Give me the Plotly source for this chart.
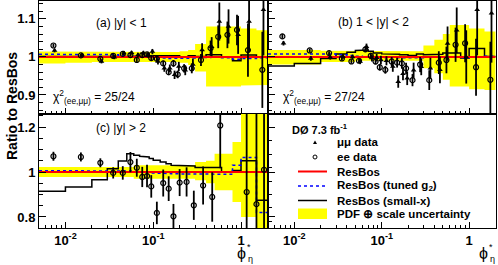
import math
import plotly.graph_objects as go

# ---------------- data ----------------
bin_edges = [0.0, 0.01, 0.02, 0.03, 0.04, 0.05, 0.06, 0.07, 0.08, 0.09, 0.10, 0.12, 0.14,
             0.16, 0.18, 0.20, 0.25, 0.30, 0.40, 0.50, 0.60, 0.80, 1.00, 1.50, 2.00]
phi_centers = [0.0073, 0.015, 0.025, 0.035, 0.045, 0.055, 0.065, 0.075, 0.085, 0.095, 0.11, 0.13,
               0.15, 0.17, 0.19, 0.225, 0.275, 0.35, 0.45, 0.55, 0.7, 0.9, 1.2, 1.75]
resbos_ratio = [1.0, 1.0, 1.0, 1.0, 1.0, 1.0, 1.0, 1.0, 1.0, 1.0, 1.0, 1.0,
                1.0, 1.0, 1.0, 1.0, 1.0, 1.0, 1.0, 1.0, 1.0, 1.0, 1.0, 1.0]

# (a) |y| < 1
ee_a = [1.030, 1.004, 0.995, 1.003, 1.008, 1.005, 0.992, 1.005, 1.007, 0.997, 0.995, 0.983,
        0.960, 0.983, 0.954, 0.970, 0.970, 0.992, 1.023, 1.053, 1.058, 1.071, 1.018, 0.966]
ee_a_err = [0.005, 0.004, 0.004, 0.004, 0.004, 0.004, 0.005, 0.005, 0.005, 0.006, 0.006, 0.007,
            0.008, 0.009, 0.010, 0.011, 0.013, 0.016, 0.020, 0.030, 0.035, 0.040, 0.070, 0.100]
mm_a = [1.017, 1.005, 0.988, 0.999, 1.010, 1.011, 1.005, 1.010, 1.005, 1.014, 0.988, 0.970,
        0.970, 0.953, 0.975, 0.965, 0.980, 1.018, 1.027, 1.093, 1.080, 1.058, 1.093, 1.124]
mm_a_err = [0.005, 0.005, 0.005, 0.005, 0.005, 0.005, 0.006, 0.006, 0.007, 0.007, 0.008, 0.009,
            0.010, 0.011, 0.012, 0.013, 0.015, 0.018, 0.025, 0.050, 0.045, 0.050, 0.080, 0.120]
tuned_a = [1.007, 1.007, 1.007, 1.006, 1.004, 1.002, 1.001, 1.000, 1.000, 0.999, 0.998, 0.997,
           0.996, 0.996, 0.996, 0.996, 0.997, 0.998, 0.999, 1.000, 0.998, 0.994, 0.996, 0.998]
smallx_a = [1.001, 1.001, 1.001, 1.001, 1.001, 1.001, 1.001, 1.001, 1.001, 1.001, 1.003, 1.003,
            1.003, 1.003, 1.003, 1.000, 1.003, 1.001, 1.006, 1.006, 1.000, 0.990, 1.005, 1.000]
band_up_a = [1.014, 1.014, 1.013, 1.013, 1.013, 1.013, 1.013, 1.013, 1.013, 1.013, 1.013, 1.013,
             1.013, 1.013, 1.013, 1.015, 1.018, 1.034, 1.080, 1.080, 1.080, 1.080, 1.075, 1.070]
band_lo_a = [0.983, 0.985, 0.987, 0.987, 0.987, 0.987, 0.987, 0.987, 0.987, 0.987, 0.987, 0.987,
             0.987, 0.987, 0.987, 0.985, 0.979, 0.962, 0.922, 0.922, 0.922, 0.922, 0.925, 0.926]

# (b) 1 < |y| < 2
ee_b = [1.054, 1.017, 1.010, 0.996, 0.988, 0.990, 1.020, 1.003, 0.988, 0.973, 0.966, 0.988,
        0.985, 0.983, 0.970, 0.939, 0.980, 0.939, 0.985, 0.992, 1.032, 1.036, 0.973, 0.940]
ee_b_err = [0.006, 0.005, 0.005, 0.005, 0.006, 0.006, 0.007, 0.008, 0.008, 0.009, 0.010, 0.012,
            0.013, 0.014, 0.015, 0.016, 0.020, 0.026, 0.030, 0.035, 0.045, 0.050, 0.075, 0.100]
mm_b = [1.036, 0.996, 0.999, 1.001, 1.000, 0.988, 1.027, 0.997, 0.998, 0.992, 0.990, 0.975,
        0.935, 0.956, 0.944, 0.965, 0.974, 0.970, 0.966, 1.035, 1.070, 1.000, 1.124, 1.115]
mm_b_err = [0.006, 0.006, 0.006, 0.006, 0.006, 0.007, 0.008, 0.009, 0.010, 0.011, 0.012, 0.014,
            0.016, 0.017, 0.018, 0.020, 0.022, 0.028, 0.035, 0.045, 0.060, 0.070, 0.120, 0.130]
tuned_b = [1.008, 1.008, 1.008, 1.006, 1.004, 1.002, 1.000, 0.999, 0.998, 0.998, 0.997, 0.997,
           0.997, 0.997, 0.997, 0.997, 0.998, 0.999, 1.000, 1.000, 0.999, 0.998, 1.000, 1.002]
smallx_b = [0.976, 0.983, 0.996, 1.008, 1.012, 1.017, 1.018, 1.015, 1.010, 1.010, 1.008, 1.008,
            1.007, 1.006, 1.006, 1.004, 1.008, 1.006, 1.007, 1.010, 1.010, 0.997, 1.022, 1.001]
band_up_b = [1.018, 1.018, 1.016, 1.016, 1.016, 1.015, 1.015, 1.015, 1.015, 1.015, 1.015, 1.015,
             1.015, 1.015, 1.015, 1.015, 1.015, 1.030, 1.045, 1.060, 1.084, 1.084, 1.075, 1.067]
band_lo_b = [0.980, 0.980, 0.987, 0.987, 0.987, 0.990, 0.990, 0.990, 0.990, 0.990, 0.990, 0.990,
             0.990, 0.990, 0.990, 0.990, 0.990, 0.970, 0.957, 0.940, 0.922, 0.922, 0.915, 0.913]

# (c) |y| > 2  (electrons only)
phi_c = [0.0073, 0.015, 0.025, 0.035, 0.045, 0.055, 0.065, 0.075, 0.085, 0.095, 0.11, 0.13,
         0.15, 0.17, 0.20, 0.24, 0.29, 0.37, 0.47, 0.58, 1.16, 1.5, 1.83]
ee_c = [1.070, 1.067, 1.041, 0.996, 0.996, 1.044, 1.019, 0.978, 0.982, 0.936, 0.818, 0.951,
        0.926, 0.803, 0.953, 0.956, 0.852, 0.940, 0.889, 1.207, 0.911, 0.857, 1.010]
ee_c_err = [0.020, 0.020, 0.020, 0.025, 0.030, 0.045, 0.040, 0.045, 0.050, 0.050, 0.050, 0.060,
            0.055, 0.055, 0.060, 0.065, 0.065, 0.085, 0.110, 0.190, 0.450, 0.450, 0.400]
tuned_c = [1.006, 1.006, 1.006, 1.005, 1.005, 1.004, 1.000, 1.000, 0.998, 0.996, 0.994, 0.993,
           0.993, 0.992, 0.992, 0.992, 0.992, 0.993, 0.992, 0.990, 0.990, 1.030, 1.065, 0.820]
smallx_c = [0.914, 0.933, 0.966, 1.015, 1.049, 1.081, 1.074, 1.070, 1.067, 1.060, 1.052, 1.044,
            1.037, 1.030, 1.030, 1.030, 1.027, 1.020, 1.020, 1.020, 1.000, 1.007, 1.050, 0.874]
band_up_c = [1.022, 1.022, 1.022, 1.022, 1.022, 1.022, 1.030, 1.030, 1.030, 1.030, 1.030, 1.030,
             1.030, 1.030, 1.030, 1.030, 1.030, 1.044, 1.050, 1.081, 1.081, 1.133, 1.300, 1.300]
band_lo_c = [0.978, 0.978, 0.978, 0.978, 0.978, 0.978, 0.970, 0.970, 0.970, 0.970, 0.970, 0.970,
             0.970, 0.970, 0.970, 0.970, 0.970, 0.963, 0.950, 0.919, 0.919, 0.867, 0.800, 0.700]

chi2_a = "25/24"
chi2_b = "27/24"

# ---------------- layout constants ----------------
W, H = 498, 265
ML, MR, MT, MB = 39, 2, 1, 37
PW = W - ML - MR
PH = H - MT - MB
XMIN, XMAX = 0.005, 2.03
XSPLIT = 229 / PW
YSPLIT = 114 / PH
FONT = "Liberation Sans, Arial, Helvetica, sans-serif"


def px(xpix):
    return (xpix - ML) / PW


def py(ypix):
    return (H - MB - ypix) / PH


def step_xy(vals):
    xs, ys = [], []
    for i, v in enumerate(vals):
        xs += [max(bin_edges[i], XMIN), bin_edges[i + 1]]
        ys += [v, v]
    return xs, ys


fig = go.Figure()


def add_theory(xa, ya, up, lo, tuned, smallx):
    xu, yu = step_xy(up)
    xl, yl = step_xy(lo)
    fig.add_trace(go.Scatter(x=xu + xl[::-1], y=yu + yl[::-1], fill="toself",
                             fillcolor="#ffff00", line=dict(width=0), mode="lines",
                             hoverinfo="skip", showlegend=False, xaxis=xa, yaxis=ya))
    xs, ys = step_xy(smallx)
    fig.add_trace(go.Scatter(x=xs, y=ys, mode="lines", line=dict(color="black", width=1.5),
                             showlegend=False, xaxis=xa, yaxis=ya))
    xs, ys = step_xy(tuned)
    fig.add_trace(go.Scatter(x=xs, y=ys, mode="lines",
                             line=dict(color="#0000ff", width=1.5, dash="dot"),
                             showlegend=False, xaxis=xa, yaxis=ya))
    xs, ys = step_xy(resbos_ratio)
    fig.add_trace(go.Scatter(x=xs, y=ys, mode="lines", line=dict(color="#ff0000", width=2),
                             showlegend=False, xaxis=xa, yaxis=ya))


def add_points(xa, ya, xs, ys, errs, kind):
    if kind == "ee":
        marker = dict(symbol="circle-open", size=5, color="black", line=dict(width=1.2))
        xx = xs
    else:
        marker = dict(symbol="triangle-up", size=5, color="black")
        xx = [v * 1.03 for v in xs]
    fig.add_trace(go.Scatter(x=xx, y=ys, mode="markers", marker=marker,
                             error_y=dict(type="data", array=errs, color="black",
                                          thickness=1.8, width=0),
                             showlegend=False, xaxis=xa, yaxis=ya))


add_theory("x", "y", band_up_a, band_lo_a, tuned_a, smallx_a)
add_points("x", "y", phi_centers, mm_a, mm_a_err, "mm")
add_points("x", "y", phi_centers, ee_a, ee_a_err, "ee")

add_theory("x2", "y2", band_up_b, band_lo_b, tuned_b, smallx_b)
add_points("x2", "y2", phi_centers, mm_b, mm_b_err, "mm")
add_points("x2", "y2", phi_centers, ee_b, ee_b_err, "ee")

add_theory("x3", "y3", band_up_c, band_lo_c, tuned_c, smallx_c)
add_points("x3", "y3", phi_c, ee_c, ee_c_err, "ee")

# empty panel (d) for legend
fig.add_trace(go.Scatter(x=[0.1], y=[1.0], mode="markers", marker=dict(opacity=0),
                         showlegend=False, hoverinfo="skip", xaxis="x4", yaxis="y4"))

minor_x = [k * 10.0 ** e for e in (-3, -2, -1, 0) for k in range(2, 10)]
tick_font = dict(family=FONT, size=13, color="black", weight="bold")


def xax(domain, anchor, labels):
    return dict(type="log", domain=domain, anchor=anchor,
                range=[math.log10(XMIN), math.log10(XMAX)],
                tickmode="array", tickvals=[0.01, 0.1, 1],
                ticktext=["10<sup>-2</sup>", "10<sup>-1</sup>", "1"],
                showticklabels=labels, ticks="inside", ticklen=6, tickwidth=1,
                tickcolor="black", tickfont=tick_font,
                minor=dict(tickmode="array", tickvals=minor_x, ticks="inside",
                           ticklen=3, tickwidth=1, tickcolor="black", showgrid=False),
                showline=True, linecolor="black", linewidth=1, mirror=True,
                showgrid=False, zeroline=False, automargin=False)


def yax(domain, anchor, rng, major, minor_step, labels):
    n0 = math.ceil(rng[0] / minor_step - 1e-9)
    n1 = math.floor(rng[1] / minor_step + 1e-9)
    mv = [round(k * minor_step, 4) for k in range(n0, n1 + 1)]
    return dict(domain=domain, anchor=anchor, range=rng, tickmode="array",
                tickvals=major, ticktext=[("%g" % v) for v in major],
                showticklabels=labels, ticks="inside", ticklen=7, tickwidth=1,
                tickcolor="black", tickfont=tick_font,
                minor=dict(tickmode="array", tickvals=mv, ticks="inside", ticklen=4,
                           tickwidth=1, tickcolor="black", showgrid=False),
                showline=True, linecolor="black", linewidth=1, mirror=True,
                showgrid=False, zeroline=False, automargin=False)


top_rng = [0.85, 1.147]
bot_rng = [0.751, 1.258]

fig.update_layout(
    width=W, height=H, margin=dict(l=ML, r=MR, t=MT, b=MB, autoexpand=False),
    paper_bgcolor="white", plot_bgcolor="white", showlegend=False,
    font=dict(family=FONT, color="black"),
    xaxis=xax([0, XSPLIT], "y", False),
    xaxis2=xax([XSPLIT, 1], "y2", False),
    xaxis3=xax([0, XSPLIT], "y3", True),
    xaxis4=xax([XSPLIT, 1], "y4", True),
    yaxis=yax([YSPLIT, 1], "x", top_rng, [0.9, 1.0, 1.1], 0.02, True),
    yaxis2=yax([YSPLIT, 1], "x2", top_rng, [0.9, 1.0, 1.1], 0.02, False),
    yaxis3=yax([0, YSPLIT], "x3", bot_rng, [0.8, 1.0, 1.2], 0.05, True),
    yaxis4=yax([0, YSPLIT], "x4", bot_rng, [0.8, 1.0, 1.2], 0.06, False),
)

ann = []
shapes = []


def text(xpix, ypix, s, size=11, bold=False, xanchor="left", angle=0):
    ann.append(dict(x=px(xpix), y=py(ypix), xref="paper", yref="paper", text=s,
                    showarrow=False, xanchor=xanchor, yanchor="middle", textangle=angle,
                    font=dict(family=FONT, size=size, color="black",
                              weight="bold" if bold else "normal")))


text(121, 23, "(a) |y| < 1", size=12, xanchor="center")
text(373, 22, "(b) 1 < |y| < 2", size=12, xanchor="center")
text(121, 128, "(c) |y| > 2", size=12, xanchor="center")
text(51, 97, "χ<sup>2</sup><sub>(ee,μμ)</sub> = " + chi2_a, size=12)
text(281, 97, "χ<sup>2</sup><sub>(ee,μμ)</sub> = " + chi2_b, size=12)

text(12, 106, "Ratio to ResBos", size=14, bold=True, xanchor="center", angle=-90)
for xx in (241, 483):
    text(xx, 253, "ϕ", size=16, xanchor="center")
    text(xx + 8, 247, "*", size=9, xanchor="center")
    text(xx + 9, 258.5, "η", size=9, xanchor="center")

# legend in panel (d)
text(290, 129, "DØ 7.3 fb<sup>-1</sup>", size=11, bold=True)
leg_rows = [(142, "μμ data"), (157, "ee data"), (171.5, "ResBos"),
            (186, "ResBos (tuned g<sub>2</sub>)"), (200.5, "ResBos (small-x)"),
            (214, "PDF ⊕ scale uncertainty")]
for yy, s in leg_rows:
    text(335, yy, s, size=11.5, bold=True)

shapes.append(dict(type="path", xref="paper", yref="paper",
                   path="M %f %f L %f %f L %f %f Z" % (px(313), py(144), px(317), py(144),
                                                       px(315), py(140.5)),
                   fillcolor="black", line=dict(width=0)))
shapes.append(dict(type="circle", xref="paper", yref="paper", x0=px(313), x1=px(317),
                   y0=py(159), y1=py(155), line=dict(color="black", width=1)))
shapes.append(dict(type="line", xref="paper", yref="paper", x0=px(298), x1=px(327),
                   y0=py(171.5), y1=py(171.5), line=dict(color="#ff0000", width=2)))
shapes.append(dict(type="line", xref="paper", yref="paper", x0=px(298), x1=px(327),
                   y0=py(186), y1=py(186), line=dict(color="#0000ff", width=1.5, dash="dot")))
shapes.append(dict(type="line", xref="paper", yref="paper", x0=px(298), x1=px(327),
                   y0=py(200.5), y1=py(200.5), line=dict(color="black", width=1.5)))
shapes.append(dict(type="rect", xref="paper", yref="paper", x0=px(298), x1=px(327),
                   y0=py(219), y1=py(208.5), fillcolor="#ffff00", line=dict(width=0)))

fig.update_layout(annotations=ann, shapes=shapes)
fig.write_html("out.html", config={"displayModeBar": False},
               post_script="document.body.style.margin='0px';")
